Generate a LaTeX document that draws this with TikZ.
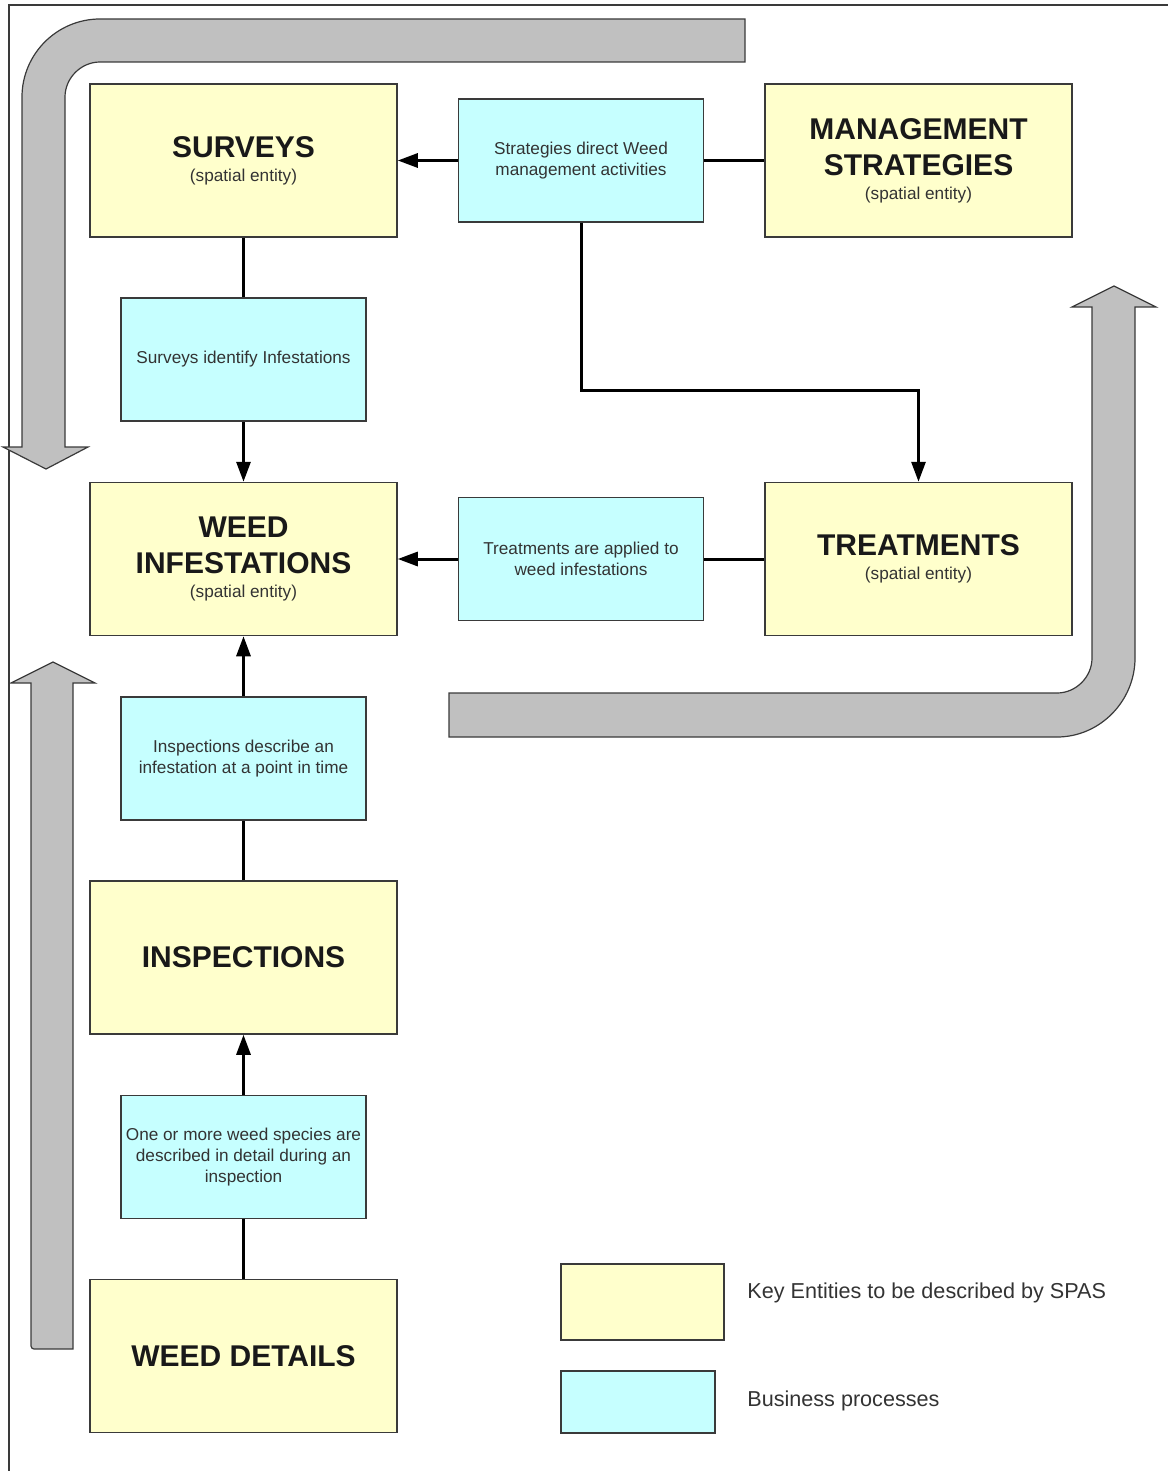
\documentclass[tikz,border=0pt]{standalone}
\usepackage{fontspec}
\setmainfont{Liberation Sans}
\usepackage{tikz}
\usetikzlibrary{arrows.meta}

\definecolor{entityfill}{HTML}{FFFFCC}
\definecolor{processfill}{HTML}{C6FFFF}
\definecolor{bandgray}{HTML}{C0C0C0}
\definecolor{edgegray}{HTML}{3A3A3A}
\definecolor{textgray}{HTML}{333333}

\tikzset{
    entity/.style={draw=edgegray, line width=0.75pt, fill=entityfill,
        minimum width=153.5pt, minimum height=76.5pt, inner sep=0pt,
        align=center, font=\fontsize{15}{18}\selectfont\bfseries, text=black!90},
    process/.style={draw=edgegray, line width=0.75pt, fill=processfill,
        minimum width=122.5pt, minimum height=61.5pt, inner sep=0pt,
        align=center, font=\fontsize{8.6}{10.5}\selectfont, text=textgray},
    legendtext/.style={inner sep=0pt, anchor=west,
        font=\fontsize{10.8}{13}\selectfont, text=textgray},
    link/.style={line width=1.5pt, black},
    flow/.style={link, -{Triangle[length=10pt,width=7pt]}},
    band/.style={draw=edgegray, line width=0.6pt, fill=bandgray}
}
\newcommand{\spatial}{\\[-6pt]{\fontsize{8.6}{10.5}\selectfont\mdseries\color{textgray}(spatial entity)}}

\begin{document}
\begin{tikzpicture}[x=0.5pt, y=-0.5pt]
    \useasboundingbox (0,0) rectangle (1168,1471);

    % frame
    \draw[edgegray, line width=0.7pt] (9,1471) -- (9,5) -- (1168,5);

    % grey bands
    \draw[band] (745,19) -- (100,19) .. controls (57,19) and (22,54) .. (22,97)
        -- (22,447) -- (3,447) -- (46,469) -- (88,447) -- (65,447) -- (65,97)
        .. controls (65,78) and (81,62) .. (100,62) -- (745,62) -- cycle;
    \draw[band] (449,693) -- (1057,693) .. controls (1076,693) and (1092,677) .. (1092,658)
        -- (1092,307) -- (1072,307) -- (1114,286) -- (1156,307) -- (1135,307) -- (1135,658)
        .. controls (1135,701) and (1100,737) .. (1057,737) -- (449,737) -- cycle;
    \draw[band] (73,683) -- (73,1349) [rounded corners=1.5pt] -- (31,1349) [sharp corners]
        -- (31,683) -- (11,683) -- (53,662) -- (95,683) -- cycle;

    % entities and processes
    \node[entity] (surveys) at (243.5,160.5) {SURVEYS\spatial};
    \node[process] (strat) at (581,160.5) {Strategies direct Weed\\management activities};
    \node[entity] (mgmt) at (918.5,160.5) {MANAGEMENT\\STRATEGIES\spatial};
    \node[process] (identify) at (243.5,359.5) {Surveys identify Infestations};
    \node[entity] (infest) at (243.5,559) {WEED\\INFESTATIONS\spatial};
    \node[process] (applied) at (581,559) {Treatments are applied to\\weed infestations};
    \node[entity] (treat) at (918.5,559) {TREATMENTS\spatial};
    \node[process] (describe) at (243.5,758.5) {Inspections describe an\\infestation at a point in time};
    \node[entity] (inspect) at (243.5,957.5) {INSPECTIONS};
    \node[process] (species) at (243.5,1157) {One or more weed species are\\described in detail during an\\inspection};
    \node[entity] (details) at (243.5,1356) {WEED DETAILS};

    % connectors
    \draw[link] (surveys) -- (identify);
    \draw[flow] (identify) -- (infest);
    \draw[flow] (describe) -- (infest);
    \draw[link] (inspect) -- (describe);
    \draw[flow] (species) -- (inspect);
    \draw[link] (details) -- (species);
    \draw[link] (mgmt) -- (strat);
    \draw[flow] (strat) -- (surveys);
    \draw[link] (treat) -- (applied);
    \draw[flow] (applied) -- (infest);
    \coordinate (turn) at (581,390);
    \draw[flow] (strat) -- (turn) -| (treat);

    % legend
    \node[entity, minimum width=81.5pt, minimum height=38pt] (keyentity) at (642.5,1302) {};
    \node[process, minimum width=77pt, minimum height=31pt] (keyprocess) at (638,1402) {};
    \node[legendtext] (keyentitytext) at (747,1293) {Key Entities to be described by SPAS};
    \node[legendtext] (keyprocesstext) at (747,1401) {Business processes};
\end{tikzpicture}
\end{document}
